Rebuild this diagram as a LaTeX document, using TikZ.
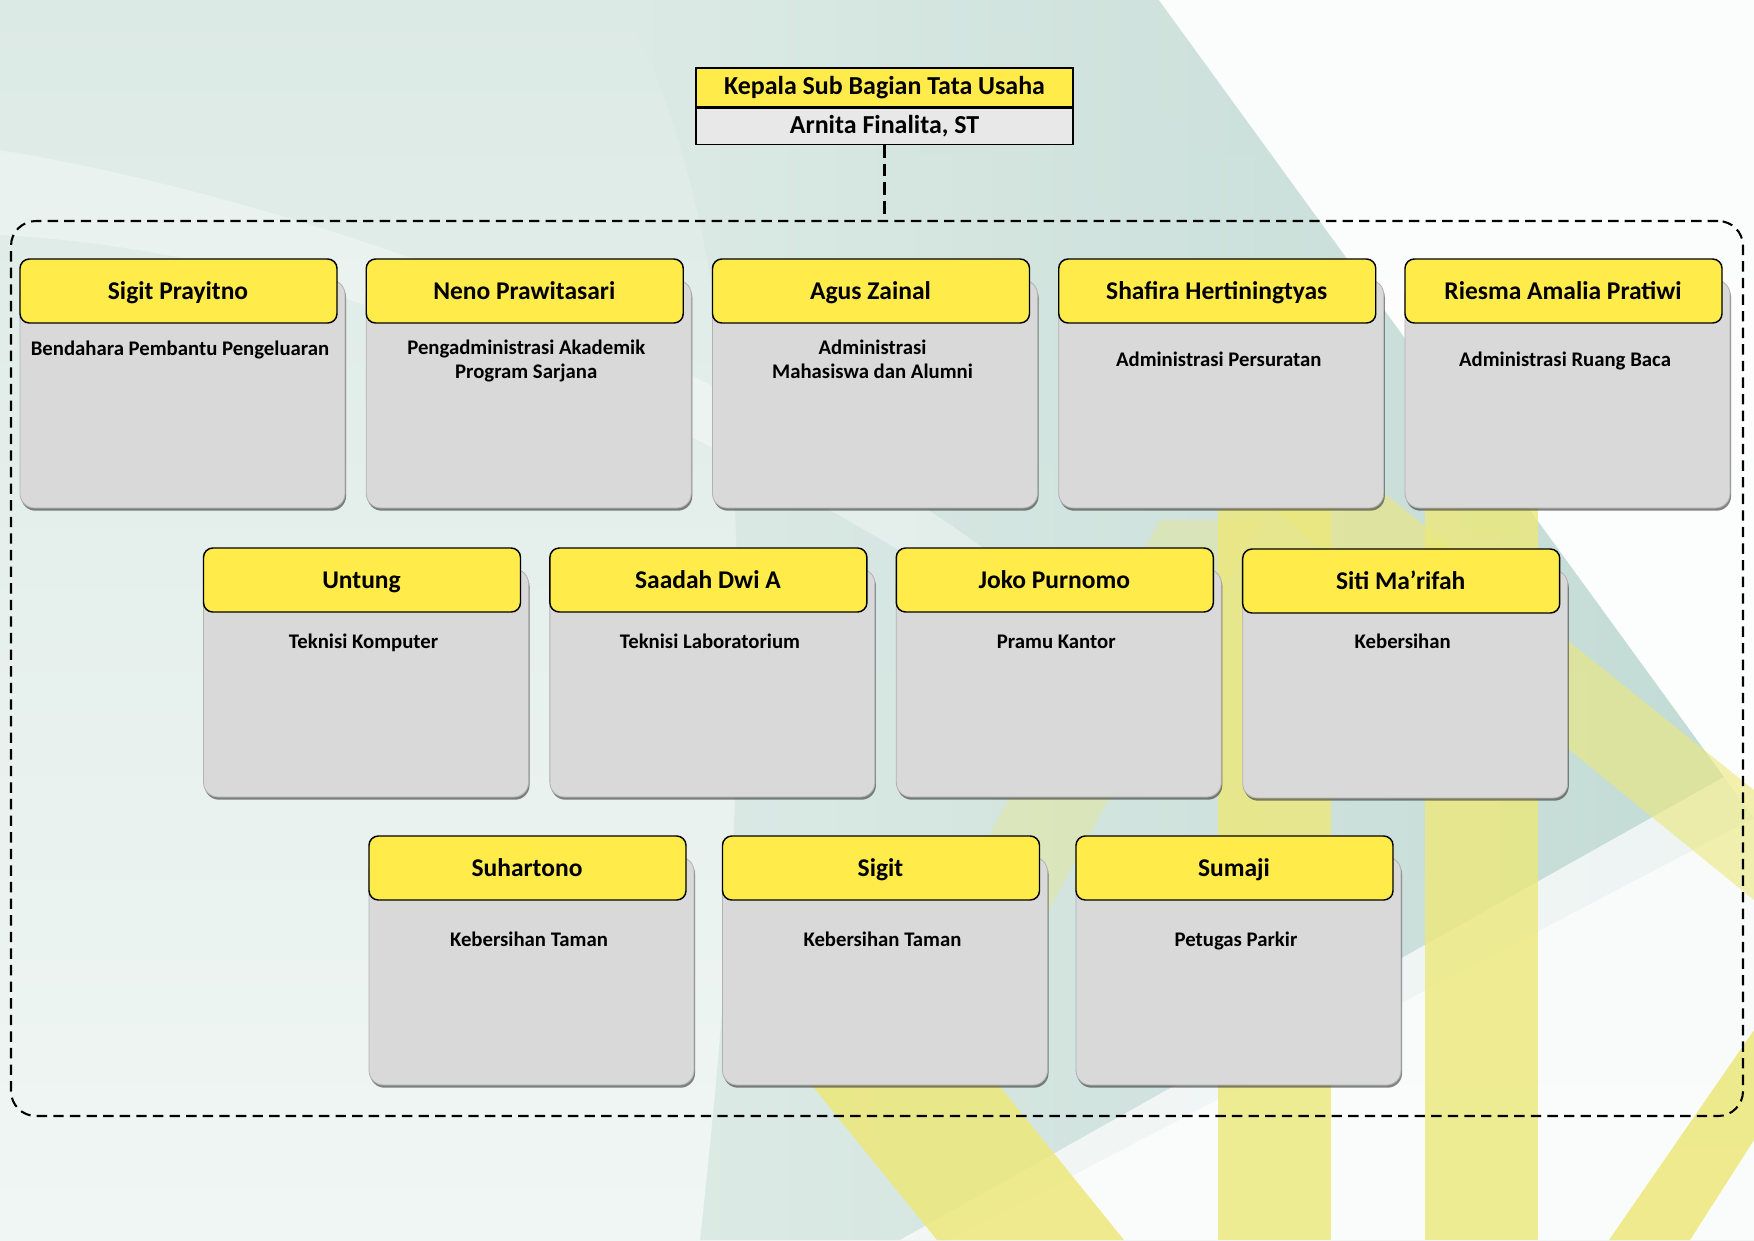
\documentclass[tikz,border=0pt]{standalone}
\usepackage{fontspec}
\setmainfont{Carlito}
\usetikzlibrary{shadows,fit,positioning}

\definecolor{kuning}{HTML}{FFEB4A}
\definecolor{abu}{HTML}{D9D9D9}
\definecolor{abumuda}{HTML}{E8E8E8}
\definecolor{mint}{HTML}{DCEAE5}
\definecolor{mintmuda}{HTML}{F0F6F4}
\definecolor{hijautua}{HTML}{BFD9D3}
\definecolor{pita}{HTML}{ECE87A}

% one staff card: left x, top y, id, name, task, task offset
\newcommand{\kartu}[6]{%
  \draw[kartubox] (#1,{-#2-21}) rectangle ({#1+325},{-#2-249});
  \draw[namabox] (#1,-#2) rectangle ({#1+317},{-#2-64});
  \node[nama] (n#3) at ({#1+158},{-#2-35}) {#4};
  \node[tugas] (t#3) at ({#1+160},{-#2-#6}) {#5};
}

\begin{document}
\begin{tikzpicture}[x=0.016933cm, y=0.016933cm,
  kartubox/.style={fill=abu, draw=gray!60, line width=0.4pt, rounded corners=7pt,
    drop shadow={shadow xshift=0.5pt, shadow yshift=-1.3pt, opacity=.6, fill=black!80}},
  namabox/.style={fill=kuning, draw=black, line width=0.7pt, rounded corners=4.5pt},
  nama/.style={font=\bfseries\fontsize{12.3}{14}\selectfont, inner sep=0pt,
    execute at begin node=\strut},
  tugas/.style={font=\bfseries\fontsize{10}{11.8}\selectfont, align=center, inner sep=0pt,
    execute at begin node=\strut, execute at end node=\strut},
  judul/.style={fill=kuning, draw=black, line width=0.7pt, minimum width=181.6pt,
    minimum height=18.8pt, inner sep=0pt, font=\bfseries\fontsize{12.5}{14}\selectfont},
  pejabat/.style={judul, fill=abumuda, minimum height=17.3pt},
  bingkai/.style={draw=black, line width=1pt, dash pattern=on 5pt off 3pt,
    rounded corners=12pt, inner sep=0pt},
  garis/.style={draw=black, line width=1pt, dash pattern=on 6pt off 3pt}]
  \useasboundingbox (0,0) rectangle (1754,-1240);

  % background
  \begin{scope}
    \clip (0,0) rectangle (1754,-1240);
    \shade[top color=mint, bottom color=mintmuda] (0,0) rectangle (1754,-1240);
    \shade[left color=mint, right color=hijautua, opacity=.9]
      (620,0) -- (1159,0) -- (1754,-818) -- (950,-1240) -- (700,-1240)
      .. controls (760,-700) and (760,-250) .. (620,0) -- cycle;
    \fill[white, opacity=.9] (1159,0) -- (1754,0) -- (1754,-818) -- cycle;
    \fill[white, opacity=.7] (1754,-760) -- (1754,-1240) -- (900,-1240) -- cycle;
    \fill[white, opacity=.35] (0,-150) .. controls (300,-200) and (700,-340) .. (1000,-560)
      -- (980,-600) .. controls (650,-390) and (300,-250) .. (0,-235) -- cycle;
    \fill[pita, opacity=.8] (1218,-500) rectangle (1331,-1240);
    \fill[pita, opacity=.8] (1425,-500) rectangle (1538,-1240);
    \fill[pita, opacity=.6] (1250,-490) -- (1380,-490) -- (1754,-790) -- (1754,-900) -- cycle;
    \fill[pita, opacity=.35] (900,-1000) -- (1000,-1000) -- (1260,-520) -- (1160,-520) -- cycle;
    \fill[pita, opacity=.85] (743,-1000) -- (930,-1000) -- (1124,-1240) -- (937,-1240) -- cycle;
    \fill[pita, opacity=.85] (1609,-1240) -- (1754,-1030) -- (1754,-1140) -- (1690,-1240) -- cycle;
  \end{scope}

  % head of the sub division
  \node[judul] (jabatan) at (884.5,-87.5) {Kepala Sub Bagian Tata Usaha};
  \node[pejabat, below=0pt of jabatan] (kepala) {Arnita Finalita, ST};
  \node[bingkai, fit={(11,-221) (1743,-1116)}] (staf) {};
  \draw[garis] (kepala.south) -- (kepala.south |- staf.north);

  % first row
  \kartu{20}{259}{a}{Sigit Prayitno}{Bendahara Pembantu Pengeluaran}{92}
  \kartu{366.25}{259}{b}{Neno Prawitasari}{Pengadministrasi Akademik\\Program Sarjana}{104}
  \kartu{712.5}{259}{c}{Agus Zainal}{Administrasi\\Mahasiswa dan Alumni}{104}
  \kartu{1058.75}{259}{d}{Shafira Hertiningtyas}{Administrasi Persuratan}{103}
  \kartu{1405}{259}{e}{Riesma Amalia Pratiwi}{Administrasi Ruang Baca}{103}
  % second row
  \kartu{203.5}{548}{f}{Untung}{Teknisi Komputer}{96}
  \kartu{549.9}{548}{g}{Saadah Dwi A}{Teknisi Laboratorium}{96}
  \kartu{896.3}{548}{h}{Joko Purnomo}{Pramu Kantor}{96}
  \kartu{1242.7}{549}{i}{Siti Ma’rifah}{Kebersihan}{95}
  % third row
  \kartu{369}{836}{j}{Suhartono}{Kebersihan Taman}{106}
  \kartu{722.5}{836}{k}{Sigit}{Kebersihan Taman}{106}
  \kartu{1076}{836}{l}{Sumaji}{Petugas Parkir}{106}
\end{tikzpicture}
\end{document}
